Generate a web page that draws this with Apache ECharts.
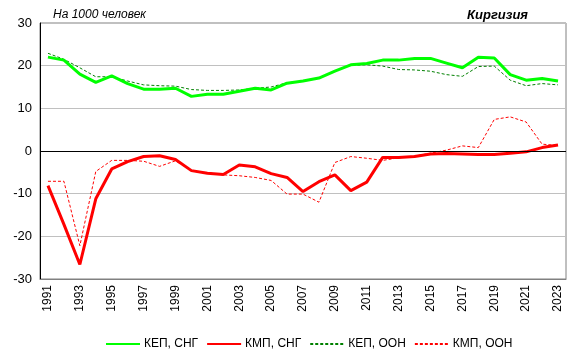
<!DOCTYPE html>
<html>
<head>
<meta charset="utf-8">
<script src="https://cdn.jsdelivr.net/npm/echarts@6/dist/echarts.min.js"></script>
<style>
  html, body { margin: 0; padding: 0; background: #fff; }
  #main { width: 578px; height: 354px; }
</style>
</head>
<body>
<div id="main"></div>
<script>
// годы
var years = [];
for (var y = 1991; y <= 2023; y++) years.push(String(y));

// КЕП, СНГ
var kepCis = [22.0, 21.3, 18.0, 16.1, 17.6, 15.8, 14.5, 14.5, 14.7, 12.8, 13.3, 13.3, 14.0, 14.7, 14.3, 15.9,
  16.4, 17.1, 18.7, 20.2, 20.5, 21.3, 21.3, 21.7, 21.7, 20.6, 19.5, 22.0, 21.8, 17.9, 16.6, 17.0, 16.4];
// КМП, СНГ
var kmpCis = [-8.1, -17.2, -26.6, -11.2, -4.2, -2.5, -1.3, -1.1, -2.0, -4.6, -5.2, -5.5, -3.3, -3.7, -5.3, -6.2,
  -9.5, -7.2, -5.6, -9.3, -7.3, -1.5, -1.5, -1.3, -0.7, -0.6, -0.7, -0.8, -0.8, -0.5, -0.2, 0.8, 1.4];
// КЕП, ООН
var kepUn = [22.9, 21.5, 19.5, 17.4, 17.4, 16.4, 15.5, 15.3, 15.2, 14.4, 14.2, 14.2, 14.3, 14.7, 15.0, 16.0,
  16.4, 17.1, 18.7, 20.1, 20.2, 19.9, 19.1, 19.0, 18.7, 17.9, 17.5, 19.8, 19.9, 16.6, 15.3, 15.8, 15.5];
// КМП, ООН
var kmpUn = [-7.1, -7.1, -22.2, -4.8, -2.2, -2.2, -2.4, -3.6, -2.3, -4.6, -5.1, -5.6, -5.8, -6.2, -6.9, -10.1,
  -10.1, -12.0, -2.7, -1.3, -1.7, -2.2, -1.6, -1.2, -0.5, 0.2, 1.2, 0.8, 7.4, 8.0, 6.8, 1.6, 1.3];

var chart = echarts.init(document.getElementById('main'));

var option = {
  animation: false,
  textStyle: { fontFamily: 'Liberation Sans, Arial, sans-serif' },
  title: [
    { text: 'На 1000 человек', left: 48, top: 4,
      textStyle: { fontSize: 12, fontWeight: 'normal', fontStyle: 'italic', color: '#000' } },
    { text: 'Киргизия', right: 45, top: 4,
      textStyle: { fontSize: 13, fontWeight: 'bold', fontStyle: 'italic', color: '#000' } }
  ],
  legend: {
    top: 333, left: 100,
    itemWidth: 34, itemHeight: 10, itemGap: 8,
    itemStyle: { opacity: 0 },
    textStyle: { fontSize: 12, color: '#000', padding: [0, 0, 0, -1] },
    data: ['КЕП, СНГ', 'КМП, СНГ', 'КЕП, ООН', 'КМП, ООН']
  },
  grid: {
    left: 40, right: 12, top: 23, bottom: 75,
    show: true, borderColor: '#808080', borderWidth: 1
  },
  xAxis: {
    type: 'category',
    data: years,
    boundaryGap: true,
    axisLine: { onZero: false, lineStyle: { color: '#808080' } },
    axisTick: { show: false },
    axisLabel: { rotate: 90, interval: 1, fontSize: 12, color: '#000', margin: 6 }
  },
  yAxis: {
    type: 'value',
    min: -30, max: 30, interval: 10,
    axisLine: { show: true, lineStyle: { color: '#000' } },
    axisTick: { show: false },
    axisLabel: { fontSize: 13, color: '#000' },
    splitLine: { lineStyle: { color: '#c0c0c0' } }
  },
  series: [
    { name: 'КЕП, СНГ', type: 'line', data: kepCis, symbol: 'none',
      itemStyle: { color: '#00ff00' }, lineStyle: { color: '#00ff00', width: 3 }, z: 4,
      markLine: { silent: true, symbol: 'none', label: { show: false },
        lineStyle: { color: '#000', width: 1, type: 'solid' }, data: [{ yAxis: 0 }] } },
    { name: 'КМП, СНГ', type: 'line', data: kmpCis, symbol: 'none',
      itemStyle: { color: '#ff0000' }, lineStyle: { color: '#ff0000', width: 3 }, z: 4 },
    { name: 'КЕП, ООН', type: 'line', data: kepUn, symbol: 'none',
      itemStyle: { color: '#008000' }, lineStyle: { color: '#008000', width: 1, type: [3, 2] }, z: 3 },
    { name: 'КМП, ООН', type: 'line', data: kmpUn, symbol: 'none',
      itemStyle: { color: '#ff0000' }, lineStyle: { color: '#ff0000', width: 1, type: [3, 2] }, z: 3 }
  ]
};

chart.setOption(option);
</script>
</body>
</html>
